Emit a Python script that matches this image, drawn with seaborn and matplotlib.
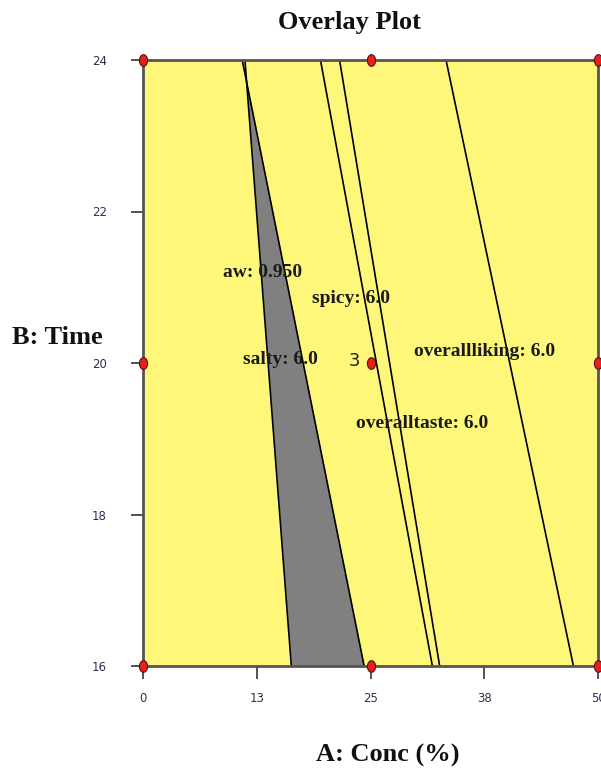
import numpy as np
import pandas as pd
import matplotlib
matplotlib.use("Agg")
import matplotlib.pyplot as plt
import seaborn as sns

# ---- data ----
time_ends = [24, 16]                      # B: Time at top and bottom of each contour line
aw_x = [10.9, 24.3]                       # aw: 0.950
salty_x = [11.2, 16.3]                    # salty: 6.0
spicy_x = [19.5, 31.8]                    # spicy: 6.0
taste_x = [21.6, 32.6]                    # overalltaste: 6.0
liking_x = [33.3, 47.3]                   # overallliking: 6.0

design_conc = [0, 25, 50, 0, 25, 50, 0, 25, 50]
design_time = [16, 16, 16, 20, 20, 20, 24, 24, 24]

label_text = ["aw: 0.950", "salty: 6.0", "spicy: 6.0", "overallliking: 6.0", "overalltaste: 6.0"]
label_x = [13.1, 15.1, 22.9, 37.5, 30.7]
label_y = [21.2, 20.05, 20.85, 20.15, 19.2]

xtick_vals = [0, 12.5, 25, 37.5, 50]
xtick_labels = ["0", "13", "25", "38", "50"]
ytick_vals = [16, 18, 20, 22, 24]
ytick_labels = ["16", "18", "20", "22", "24"]

sns.set_theme(style="white")
plt.rcParams["font.family"] = ["Liberation Serif", "DejaVu Serif"]

lines = pd.DataFrame({
    "conc": aw_x + salty_x + spicy_x + taste_x + liking_x,
    "time": time_ends * 5,
    "constraint": sum([[n] * 2 for n in ["aw", "salty", "spicy", "taste", "liking"]], []),
})
pts = pd.DataFrame({"conc": design_conc, "time": design_time})

fig = plt.figure(figsize=(6.01, 7.72), dpi=100)
ax = fig.add_axes([143 / 601, 1 - 666 / 772, (598 - 143) / 601, (666 - 60) / 772])
ax.set_facecolor("#FFF77A")

# gray region between the salty and aw lines
yy = np.linspace(16, 24, 200)
xs = np.interp(yy, time_ends[::-1], salty_x[::-1])
xa = np.interp(yy, time_ends[::-1], aw_x[::-1])
ax.fill_betweenx(yy, xs, xa, where=xa > xs, color="#808080", linewidth=0, zorder=1)

sns.lineplot(data=lines, x="conc", y="time", units="constraint", estimator=None,
             sort=False, color="black", linewidth=1.2, ax=ax, zorder=2)

marker = [(0.7 * np.cos(t), np.sin(t)) for t in np.linspace(0, 2 * np.pi, 40)]
sns.scatterplot(data=pts, x="conc", y="time", marker=marker, s=70, color="#E8201C",
                edgecolor="#5a1010", linewidth=0.8, ax=ax, zorder=5, clip_on=False)

for t, x, y in zip(label_text, label_x, label_y):
    ax.text(x, y, t, ha="center", va="center", fontsize=14, fontweight="bold",
            color="#1a1a1a", zorder=4)
ax.text(23.2, 20.03, "3", ha="center", va="center", fontsize=13,
        family=["DejaVu Sans"], color="#222222", zorder=4)

ax.set_xlim(0, 50)
ax.set_ylim(16, 24)
ax.set_xticks(xtick_vals)
ax.set_xticklabels(xtick_labels)
ax.set_yticks(ytick_vals)
ax.set_yticklabels(ytick_labels)
ax.tick_params(axis="both", which="both", direction="out", length=9, width=1.2,
               color="#333333", labelsize=8.5, labelcolor="#2a3050",
               bottom=True, left=True)
ax.tick_params(axis="y", pad=17)
ax.tick_params(axis="x", pad=10)
for lab in ax.get_xticklabels() + ax.get_yticklabels():
    lab.set_family("DejaVu Sans")
for sp in ax.spines.values():
    sp.set_color("#555555")
    sp.set_linewidth(2)
    sp.set_visible(True)
ax.set_xlabel("")
ax.set_ylabel("")

fig.text(349 / 601, 1 - 22 / 772, "Overlay Plot", ha="center", va="center",
         fontsize=19, fontweight="bold", color="#111111")
fig.text(12 / 601, 1 - 338 / 772, "B: Time", ha="left", va="center",
         fontsize=19, fontweight="bold", color="#111111")
fig.text(388 / 601, 1 - 755 / 772, "A: Conc (%)", ha="center", va="center",
         fontsize=19, fontweight="bold", color="#111111")

fig.savefig("out.png", dpi=100)
